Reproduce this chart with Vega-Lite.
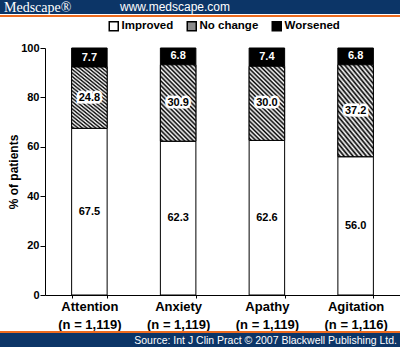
{
  "$schema": "https://vega.github.io/schema/vega-lite/v6.json",
  "padding": 0,
  "background": "white",
  "spacing": 0,
  "resolve": {"legend": {"fill": "independent"}, "scale": {"fill": "independent"}},
  "config": {
    "font": "Liberation Sans",
    "concat": {"spacing": 0},
    "view": {"stroke": null}
  },
  "datasets": {
    "bars": [
      {"task": "Attention (n = 1,119)", "status": "Improved", "pct": 67.5},
      {"task": "Attention (n = 1,119)", "status": "No change", "pct": 24.8},
      {"task": "Attention (n = 1,119)", "status": "Worsened", "pct": 7.7},
      {"task": "Anxiety (n = 1,119)", "status": "Improved", "pct": 62.3},
      {"task": "Anxiety (n = 1,119)", "status": "No change", "pct": 30.9},
      {"task": "Anxiety (n = 1,119)", "status": "Worsened", "pct": 6.8},
      {"task": "Apathy (n = 1,119)", "status": "Improved", "pct": 62.6},
      {"task": "Apathy (n = 1,119)", "status": "No change", "pct": 30.0},
      {"task": "Apathy (n = 1,119)", "status": "Worsened", "pct": 7.4},
      {"task": "Agitation (n = 1,116)", "status": "Improved", "pct": 56.0},
      {"task": "Agitation (n = 1,116)", "status": "No change", "pct": 37.2},
      {"task": "Agitation (n = 1,116)", "status": "Worsened", "pct": 6.8}
    ]
  },
  "vconcat": [
    {
      "spacing": 0,
      "hconcat": [
        {
          "width": 116, "height": 14,
          "view": {"fill": "#0c3567", "stroke": null},
          "data": {"values": []},
          "mark": {"type": "point", "opacity": 0},
          "title": {"text": "Medscape®", "orient": "bottom", "anchor": "start", "frame": "group", "offset": -13, "baseline": "top", "dx": 4, "font": "Liberation Serif", "fontSize": 14, "fontWeight": "normal", "color": "white"}
        },
        {
          "width": 284, "height": 14,
          "view": {"fill": "#0c3567", "stroke": null},
          "data": {"values": []},
          "mark": {"type": "point", "opacity": 0},
          "title": {"text": "www.medscape.com", "orient": "bottom", "anchor": "start", "frame": "group", "offset": -12.5, "baseline": "top", "dx": 4, "font": "Liberation Sans", "fontSize": 12, "fontWeight": "normal", "color": "white"}
        }
      ]
    },
    {
      "width": 400, "height": 2,
      "view": {"fill": "#ee6b1e", "stroke": null},
      "data": {"values": []},
      "mark": {"type": "point", "opacity": 0}
    },
    {
      "width": 400, "height": 278,
      "data": {"name": "bars"},
      "transform": [
        {"stack": "pct", "groupby": ["task"], "sort": [{"field": "status", "order": "ascending"}], "as": ["y0", "y1"]},
        {"calculate": "(datum.y0 + datum.y1) / 2", "as": "ymid"}
      ],
      "encoding": {
        "x": {
          "field": "task", "type": "nominal", "sort": null,
          "scale": {"paddingInner": 0.6, "paddingOuter": 0.3, "range": [45, 400]},
          "axis": {
            "title": null, "labelAngle": 0,
            "labelExpr": "[substring(datum.label, 0, indexof(datum.label, ' (')), substring(datum.label, indexof(datum.label, ' (') + 1)]",
            "labelFontSize": 13, "labelFontWeight": "bold", "labelColor": "black", "labelLineHeight": 18,
            "labelPadding": 2, "tickSize": 3, "tickColor": "black", "tickBand": "extent",
            "domainColor": "black", "grid": false
          }
        },
        "y": {
          "field": "y0", "type": "quantitative",
          "scale": {"domain": [0, 100], "nice": false, "range": [278, 31]},
          "axis": {
            "title": "% of patients", "offset": -45, "values": [0, 20, 40, 60, 80, 100], "grid": false,
            "domainColor": "black", "tickColor": "black", "tickSize": 5, "labelPadding": 1,
            "labelFontSize": 11, "labelFontWeight": "bold", "labelColor": "black",
            "titleFontSize": 12, "titleFontWeight": "bold", "titleColor": "black", "titlePadding": 0
          }
        }
      },
      "layer": [
        {
          "mark": {"type": "bar", "stroke": "black", "strokeWidth": 1},
          "encoding": {
            "y2": {"field": "y1"},
            "fill": {
              "field": "status", "type": "nominal",
              "scale": {
                "domain": ["Improved", "No change", "Worsened"],
                "range": ["white", "#8c8c8c", "black"]
              },
              "legend": {
                "title": null, "orient": "none", "legendX": 106, "legendY": 1, "direction": "horizontal",
                "symbolType": "square", "symbolSize": 81, "symbolStrokeColor": "black", "symbolStrokeWidth": 1.5,
                "labelFontSize": 11.5, "labelFontWeight": "bold", "labelColor": "black", "labelOffset": 2,
                "columnPadding": 10, "padding": 2
              }
            }
          }
        },
        {
          "transform": [{"filter": "datum.status == 'No change'"}],
          "mark": {
            "type": "bar", "stroke": "black", "strokeWidth": 1,
            "fill": {"gradient": "linear", "x1": 0, "y1": 1, "x2": 0.566, "y2": -0.204, "stops": [
              {"offset": 0, "color": "#ffffff"}, {"offset": 0.02, "color": "#000000"},
              {"offset": 0.04, "color": "#ffffff"}, {"offset": 0.06, "color": "#000000"},
              {"offset": 0.08, "color": "#ffffff"}, {"offset": 0.1, "color": "#000000"},
              {"offset": 0.12, "color": "#ffffff"}, {"offset": 0.14, "color": "#000000"},
              {"offset": 0.16, "color": "#ffffff"}, {"offset": 0.18, "color": "#000000"},
              {"offset": 0.2, "color": "#ffffff"}, {"offset": 0.22, "color": "#000000"},
              {"offset": 0.24, "color": "#ffffff"}, {"offset": 0.26, "color": "#000000"},
              {"offset": 0.28, "color": "#ffffff"}, {"offset": 0.3, "color": "#000000"},
              {"offset": 0.32, "color": "#ffffff"}, {"offset": 0.34, "color": "#000000"},
              {"offset": 0.36, "color": "#ffffff"}, {"offset": 0.38, "color": "#000000"},
              {"offset": 0.4, "color": "#ffffff"}, {"offset": 0.42, "color": "#000000"},
              {"offset": 0.44, "color": "#ffffff"}, {"offset": 0.46, "color": "#000000"},
              {"offset": 0.48, "color": "#ffffff"}, {"offset": 0.5, "color": "#000000"},
              {"offset": 0.52, "color": "#ffffff"}, {"offset": 0.54, "color": "#000000"},
              {"offset": 0.56, "color": "#ffffff"}, {"offset": 0.58, "color": "#000000"},
              {"offset": 0.6, "color": "#ffffff"}, {"offset": 0.62, "color": "#000000"},
              {"offset": 0.64, "color": "#ffffff"}, {"offset": 0.66, "color": "#000000"},
              {"offset": 0.68, "color": "#ffffff"}, {"offset": 0.7, "color": "#000000"},
              {"offset": 0.72, "color": "#ffffff"}, {"offset": 0.74, "color": "#000000"},
              {"offset": 0.76, "color": "#ffffff"}, {"offset": 0.78, "color": "#000000"},
              {"offset": 0.8, "color": "#ffffff"}, {"offset": 0.82, "color": "#000000"},
              {"offset": 0.84, "color": "#ffffff"}, {"offset": 0.86, "color": "#000000"},
              {"offset": 0.88, "color": "#ffffff"}, {"offset": 0.9, "color": "#000000"},
              {"offset": 0.92, "color": "#ffffff"}, {"offset": 0.94, "color": "#000000"},
              {"offset": 0.96, "color": "#ffffff"}, {"offset": 0.98, "color": "#000000"},
              {"offset": 1, "color": "#ffffff"}
            ]}
          },
          "encoding": {
            "y2": {"field": "y1"}
          }
        },
        {
          "transform": [{"filter": "datum.status == 'No change'"}],
          "mark": {"type": "text", "color": "white", "stroke": "white", "strokeWidth": 5, "fontSize": 11, "fontWeight": "bold"},
          "encoding": {
            "y": {"field": "ymid", "type": "quantitative"},
            "text": {"field": "pct", "type": "quantitative", "format": ".1f"}
          }
        },
        {
          "mark": {"type": "text", "fontSize": 11, "fontWeight": "bold"},
          "encoding": {
            "y": {"field": "ymid", "type": "quantitative"},
            "text": {"field": "pct", "type": "quantitative", "format": ".1f"},
            "color": {"condition": {"test": "datum.status == 'Worsened'", "value": "white"}, "value": "black"}
          }
        }
      ]
    },
    {
      "width": 400, "height": 2,
      "view": {"fill": "#ee6b1e", "stroke": null},
      "data": {"values": []},
      "mark": {"type": "point", "opacity": 0}
    },
    {
      "width": 400, "height": 14,
      "view": {"fill": "#0c3567", "stroke": null},
      "data": {"values": []},
      "mark": {"type": "point", "opacity": 0},
      "title": {"text": "Source: Int J Clin Pract © 2007 Blackwell Publishing Ltd.", "orient": "bottom", "anchor": "end", "frame": "group", "offset": -11.5, "baseline": "top", "dx": -3, "font": "Liberation Sans", "fontSize": 10.5, "fontWeight": "normal", "color": "white"}
    }
  ]
}
